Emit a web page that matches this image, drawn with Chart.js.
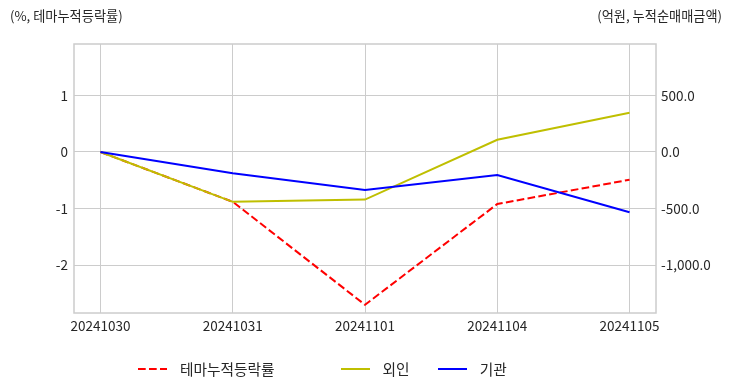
<!DOCTYPE html>
<html>
<head>
<meta charset="utf-8">
<script src="https://cdn.jsdelivr.net/npm/chart.js@4.4.1/dist/chart.umd.min.js"></script>
<style>
    body { margin: 0; background: #fff; font-family: "Noto Sans CJK KR", sans-serif; }
    #chart-wrap { position: relative; width: 732px; height: 392px; }
    #legend-flow { position: absolute; left: 138px; top: 359px; display: flex; align-items: center; font-size: 14.7px; line-height: 20px; color: #262626; }
    .legend-item { display: flex; align-items: center; }
    .legend-item svg { margin-right: 13px; }
    .legend-item:nth-child(1) { margin-right: 66px; }
    .legend-item:nth-child(2) { margin-right: 28px; }
</style>
</head>
<body>
<div id="chart-wrap">
    <canvas id="chart-flow" width="732" height="392"></canvas>
    <div id="legend-flow"></div>
</div>
<script>
var dates = ["20241030", "20241031", "20241101", "20241104", "20241105"];
var themeRate = [0, -0.88, -2.70, -0.92, -0.49];
var foreignNet = [0, -440, -420, 108, 347];
var instNet = [0, -188, -335, -203, -532];
var leftTicks = [-2, -1, 0, 1];
var rightTicks = [-1000, -500, 0, 500];
var leftTitle = "(%, 테마누적등락률)";
var rightTitle = "(억원, 누적순매매금액)";

var textColor = "#262626";
var gridColor = "#cccccc";
var tickFont = { family: "'Noto Sans CJK KR'", size: 13.5 };

function toPoints(values) {
    return values.map(function (v, i) { return { x: i, y: v }; });
}

function setTicks(values) {
    return function (scale) {
        scale.ticks = values.map(function (v) { return { value: v }; });
    };
}

var titlesAndFrame = {
    id: "titlesAndFrame",
    afterDraw: function (chart) {
        var ctx = chart.ctx;
        var a = chart.chartArea;
        ctx.save();
        ctx.font = "13.2px 'Noto Sans CJK KR'";
        ctx.fillStyle = textColor;
        ctx.textBaseline = "middle";
        ctx.textAlign = "left";
        ctx.fillText(leftTitle, 10, 16);
        ctx.textAlign = "right";
        ctx.fillText(rightTitle, 722, 16);
        ctx.strokeStyle = gridColor;
        ctx.lineWidth = 1.5;
        ctx.strokeRect(a.left, a.top, a.right - a.left, a.bottom - a.top);
        ctx.restore();
    }
};

function showLegend(chart) {
    var html = "";
    chart.data.datasets.forEach(function (ds) {
        var dash = ds.borderDash ? ds.borderDash.join(" ") : "none";
        html += "<div class='legend-item'>";
        html += "<svg width='29' height='6'><line x1='0' y1='3' x2='29' y2='3' stroke='" + ds.borderColor +
            "' stroke-width='2' stroke-dasharray='" + dash + "'/></svg>";
        html += "<span>" + ds.label + "</span>";
        html += "</div>";
    });
    document.getElementById("legend-flow").innerHTML = html;
}

var ctx = document.getElementById("chart-flow");
var myChart = new Chart(ctx, {
    type: "line",
    data: {
        datasets: [{
            label: "테마누적등락률",
            data: toPoints(themeRate),
            yAxisID: "y",
            borderColor: "#ff0000",
            borderDash: [7.7, 3.3],
            borderWidth: 2,
            pointRadius: 0,
            order: 2
        }, {
            label: "외인",
            data: toPoints(foreignNet),
            yAxisID: "y1",
            borderColor: "#bfbf00",
            borderWidth: 2,
            pointRadius: 0,
            order: 1
        }, {
            label: "기관",
            data: toPoints(instNet),
            yAxisID: "y1",
            borderColor: "#0000ff",
            borderWidth: 2,
            pointRadius: 0,
            order: 0
        }]
    },
    options: {
        responsive: false,
        animation: false,
        events: [],
        layout: {
            padding: { left: 0, right: 0, top: 44, bottom: 49 }
        },
        plugins: {
            legend: { display: false },
            tooltip: { enabled: false }
        },
        scales: {
            x: {
                type: "linear",
                min: -0.2,
                max: 4.2,
                afterBuildTicks: setTicks([0, 1, 2, 3, 4]),
                afterFit: function (scale) { scale.height = 30; },
                border: { display: false },
                grid: { color: gridColor, drawTicks: false },
                ticks: {
                    callback: function (v) { return dates[v]; },
                    color: textColor,
                    font: tickFont,
                    padding: 5,
                    maxRotation: 0,
                    autoSkip: false
                }
            },
            y: {
                position: "left",
                min: -2.845,
                max: 1.908,
                afterBuildTicks: setTicks(leftTicks),
                afterFit: function (scale) { scale.width = 74; },
                border: { display: false },
                grid: { color: gridColor, drawTicks: false },
                ticks: {
                    callback: function (v) { return String(v); },
                    color: textColor,
                    font: tickFont,
                    padding: 6
                }
            },
            y1: {
                position: "right",
                min: -1422,
                max: 954,
                afterBuildTicks: setTicks(rightTicks),
                afterFit: function (scale) { scale.width = 76; },
                border: { display: false },
                grid: { drawOnChartArea: false, drawTicks: false },
                ticks: {
                    callback: function (v) {
                        return v.toLocaleString("en-US", { minimumFractionDigits: 1, maximumFractionDigits: 1 });
                    },
                    color: textColor,
                    font: tickFont,
                    padding: 5
                }
            }
        }
    },
    plugins: [titlesAndFrame]
});
showLegend(myChart);
</script>
</body>
</html>
